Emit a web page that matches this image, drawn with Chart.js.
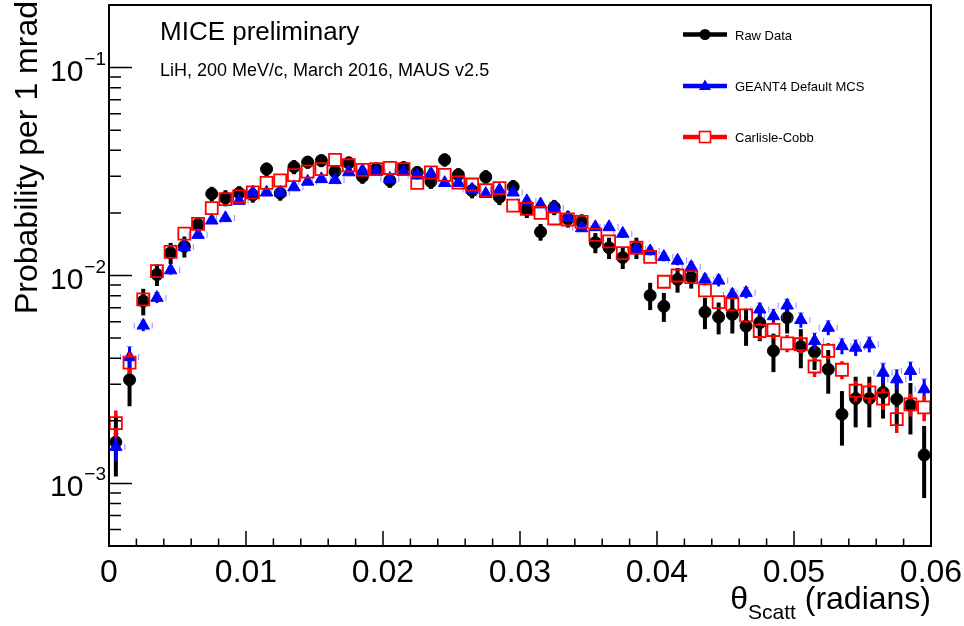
<!DOCTYPE html>
<html>
<head>
<meta charset="utf-8">
<script src="https://cdn.jsdelivr.net/npm/chart.js@4.4.1/dist/chart.umd.min.js"></script>
<style>
  html, body { margin: 0; padding: 0; background: #fff; }
  #wrap { width: 964px; height: 626px; }
</style>
</head>
<body>
<div id="wrap"><canvas id="c" width="964" height="626"></canvas></div>
<script>
// bin centres (radians), 1 mrad bins
const binCentres = [
  0.0005, 0.0015, 0.0025, 0.0035, 0.0045, 0.0055, 0.0065, 0.0075, 0.0085, 0.0095,
  0.0105, 0.0115, 0.0125, 0.0135, 0.0145, 0.0155, 0.0165, 0.0175, 0.0185, 0.0195,
  0.0205, 0.0215, 0.0225, 0.0235, 0.0245, 0.0255, 0.0265, 0.0275, 0.0285, 0.0295,
  0.0305, 0.0315, 0.0325, 0.0335, 0.0345, 0.0355, 0.0365, 0.0375, 0.0385, 0.0395,
  0.0405, 0.0415, 0.0425, 0.0435, 0.0445, 0.0455, 0.0465, 0.0475, 0.0485, 0.0495,
  0.0505, 0.0515, 0.0525, 0.0535, 0.0545, 0.0555, 0.0565, 0.0575, 0.0585, 0.0595
];

const rawData = [
  0.00158, 0.00315, 0.00753, 0.0101, 0.01285, 0.0138, 0.0176, 0.0247, 0.0236, 0.0249,
  0.0244, 0.0325, 0.0249, 0.0333, 0.0351, 0.0357, 0.0316, 0.0348, 0.0299, 0.0325,
  0.0286, 0.0330, 0.0313, 0.0283, 0.0360, 0.0305, 0.0256, 0.0298, 0.0238, 0.0267,
  0.0207, 0.0162, 0.0213, 0.0187, 0.0181, 0.0144, 0.0136, 0.0122, 0.0136, 0.00802,
  0.00711, 0.00957, 0.00982, 0.00667, 0.00631, 0.00650, 0.00571, 0.00593, 0.00434, 0.00627,
  0.00455, 0.00429, 0.00354, 0.00215, 0.00256, 0.00256, 0.00274, 0.00254, 0.00238, 0.00137
];
const rawErr = [
  0.0005, 0.0008, 0.0011, 0.0012, 0.0015, 0.0016, 0.0014, 0.0020, 0.0021, 0.0020,
  0.0020, 0.0024, 0.0020, 0.0026, 0.0025, 0.0025, 0.0024, 0.0025, 0.0023, 0.0024,
  0.0022, 0.0024, 0.0023, 0.0022, 0.0026, 0.0023, 0.0021, 0.0023, 0.0020, 0.0021,
  0.0018, 0.0015, 0.0018, 0.0017, 0.0016, 0.0016, 0.0016, 0.00145, 0.0016, 0.0012,
  0.00113, 0.0013, 0.00117, 0.00115, 0.0011, 0.00124, 0.00112, 0.0011, 0.00091, 0.00101,
  0.00097, 0.00078, 0.00084, 0.00063, 0.0007, 0.0007, 0.00069, 0.00063, 0.00066, 0.00052
];

const geantMcs = [
  0.00150, 0.00405, 0.00575, 0.00782, 0.0106, 0.0137, 0.0157, 0.0184, 0.0189, 0.0229,
  0.0251, 0.0251, 0.0251, 0.0266, 0.0283, 0.0291, 0.0288, 0.0314, 0.0320, 0.0316,
  0.0292, 0.0316, 0.0303, 0.0310, 0.0279, 0.0279, 0.0259, 0.0247, 0.0258, 0.0251,
  0.0228, 0.0220, 0.0212, 0.0190, 0.0169, 0.0171, 0.0171, 0.0159, 0.0134, 0.0131,
  0.0123, 0.0118, 0.0110, 0.00957, 0.00946, 0.00811, 0.00826, 0.00687, 0.00638, 0.00718,
  0.00611, 0.00484, 0.00561, 0.00458, 0.00450, 0.00467, 0.00341, 0.00317, 0.00348, 0.00284
];
const geantErr = [
  0.00023, 0.0005, 0.00035, 0.00045, 0.0005, 0.0006, 0.0006, 0.0007, 0.0007, 0.0008,
  0.0008, 0.0008, 0.0008, 0.0009, 0.0009, 0.0009, 0.0009, 0.0009, 0.0009, 0.0009,
  0.0009, 0.0009, 0.0009, 0.0009, 0.0009, 0.0009, 0.0008, 0.0008, 0.0008, 0.0008,
  0.0008, 0.0008, 0.0008, 0.0007, 0.0007, 0.0007, 0.0007, 0.0007, 0.0006, 0.0006,
  0.0006, 0.0006, 0.0006, 0.0006, 0.0006, 0.0005, 0.0005, 0.0005, 0.0005, 0.0005,
  0.0005, 0.00045, 0.00045, 0.0004, 0.0004, 0.0004, 0.00038, 0.00036, 0.00036, 0.00034
];

const carlisleCobb = [
  0.00195, 0.00381, 0.00767, 0.0105, 0.0130, 0.0159, 0.0177, 0.0211, 0.0233, 0.0240,
  0.0251, 0.0279, 0.0287, 0.0304, 0.0316, 0.0325, 0.0360, 0.0339, 0.0322, 0.0325,
  0.0329, 0.0325, 0.0279, 0.0313, 0.0305, 0.0280, 0.0274, 0.0257, 0.0263, 0.0217,
  0.0209, 0.0200, 0.0188, 0.0186, 0.0181, 0.0157, 0.0146, 0.0128, 0.0136, 0.0123,
  0.00933, 0.0100, 0.00982, 0.00848, 0.00745, 0.00726, 0.00643, 0.00541, 0.00547, 0.00472,
  0.00467, 0.00365, 0.00434, 0.00352, 0.00279, 0.00274, 0.00256, 0.00204, 0.00240, 0.00232
];
const carlisleErr = [
  0.00029, 0.00045, 0.0005, 0.0006, 0.0006, 0.0007, 0.0007, 0.0008, 0.0008, 0.0008,
  0.0008, 0.0009, 0.0009, 0.0009, 0.0009, 0.0009, 0.0009, 0.0009, 0.0009, 0.0009,
  0.0009, 0.0009, 0.0009, 0.0009, 0.0009, 0.0009, 0.0008, 0.0008, 0.0008, 0.0008,
  0.0008, 0.0008, 0.0007, 0.0007, 0.0007, 0.0007, 0.0007, 0.0006, 0.0006, 0.0006,
  0.0006, 0.0006, 0.0006, 0.0006, 0.0005, 0.0005, 0.0005, 0.0005, 0.0005, 0.00045,
  0.00045, 0.0004, 0.0004, 0.00035, 0.00032, 0.00032, 0.0003, 0.00029, 0.0003, 0.00033
];

const xTicks = [0, 0.01, 0.02, 0.03, 0.04, 0.05, 0.06];
const xTickLabels = ['0', '0.01', '0.02', '0.03', '0.04', '0.05', '0.06'];
const yTicks = [1e-3, 1e-2, 1e-1];
const yTickExponents = ['\u22123', '\u22122', '\u22121'];

const FONT = "'Liberation Sans', Arial, Helvetica, sans-serif";

function toPoints(ys) {
    return binCentres.map((x, i) => ({ x: x, y: ys[i] }));
}

// error bars drawn just before each dataset's markers (ROOT draws bar then marker)
const errorBars = {
    id: 'errorBars',
    beforeDatasetDraw(chart, args) {
        const ds = chart.data.datasets[args.index];
        if (!ds.errors) return;
        const ctx = chart.ctx;
        const a = chart.chartArea;
        const ys = chart.scales.y;
        ctx.save();
        ctx.beginPath();
        ctx.rect(a.left, a.top, a.right - a.left, a.bottom - a.top);
        ctx.clip();
        args.meta.data.forEach((pt, i) => {
            const v = ds.data[i].y;
            const e = ds.errors[i];
            const top = ys.getPixelForValue(v + e);
            const bot = ys.getPixelForValue(Math.max(v - e, 1e-6));
            const gap = ds.barGap || 0;
            ctx.strokeStyle = ds.barColor;
            ctx.lineWidth = ds.barWidth;
            ctx.beginPath();
            if (gap > 0) {
                if (pt.y - gap > top) { ctx.moveTo(pt.x, top); ctx.lineTo(pt.x, pt.y - gap); }
                if (pt.y + gap < bot) { ctx.moveTo(pt.x, pt.y + gap); ctx.lineTo(pt.x, bot); }
            } else {
                ctx.moveTo(pt.x, top);
                ctx.lineTo(pt.x, bot);
            }
            ctx.stroke();
            if (ds.sideMarks) {
                // faint bin-edge marks seen around the MC triangles
                ctx.strokeStyle = 'rgba(80,80,255,0.55)';
                ctx.lineWidth = 1.2;
                ctx.beginPath();
                ctx.moveTo(pt.x - 9, pt.y - 3); ctx.lineTo(pt.x - 9, pt.y + 3);
                ctx.moveTo(pt.x + 9, pt.y - 3); ctx.lineTo(pt.x + 9, pt.y + 3);
                ctx.moveTo(pt.x - 3, top); ctx.lineTo(pt.x + 3, top);
                ctx.stroke();
            }
        });
        ctx.restore();
    }
};

function drawMarker(ctx, kind, x, y) {
    ctx.save();
    if (kind === 'circle') {
        ctx.fillStyle = '#000';
        ctx.beginPath(); ctx.arc(x, y, 5.5, 0, Math.PI * 2); ctx.fill();
    } else if (kind === 'triangle') {
        ctx.fillStyle = '#0000ff';
        ctx.beginPath();
        ctx.moveTo(x, y - 6.5); ctx.lineTo(x + 6, y + 4); ctx.lineTo(x - 6, y + 4);
        ctx.closePath(); ctx.fill();
    } else {
        ctx.fillStyle = '#fff';
        ctx.fillRect(x - 5.5, y - 5.5, 11, 11);
        ctx.strokeStyle = '#ff0000'; ctx.lineWidth = 1.6;
        ctx.strokeRect(x - 5.5, y - 5.5, 11, 11);
    }
    ctx.restore();
}

// ROOT style frame, inward ticks, labels, titles and legend
const rootFrame = {
    id: 'rootFrame',
    afterDraw(chart) {
        const ctx = chart.ctx;
        const a = chart.chartArea;
        const xs = chart.scales.x, ys = chart.scales.y;
        ctx.save();

        ctx.strokeStyle = '#000';
        ctx.lineWidth = 2;
        ctx.strokeRect(a.left, a.top, a.right - a.left, a.bottom - a.top);

        ctx.lineWidth = 1.5;
        ctx.beginPath();
        for (let k = 0; k <= 30; k++) {
            const px = xs.getPixelForValue(k * 0.002);
            const len = (k % 5 === 0) ? 15 : 7.5;
            ctx.moveTo(px, a.bottom); ctx.lineTo(px, a.bottom - len);
        }
        for (let e = -4; e <= -1; e++) {
            for (let m = 1; m <= 9; m++) {
                const v = m * Math.pow(10, e);
                if (v < ys.min * 0.999 || v > ys.max * 1.001) continue;
                const py = ys.getPixelForValue(v);
                const len = m === 1 ? 23 : 12;
                ctx.moveTo(a.left, py); ctx.lineTo(a.left + len, py);
            }
        }
        ctx.stroke();

        // x tick labels
        ctx.fillStyle = '#000';
        ctx.font = '32px ' + FONT;
        ctx.textAlign = 'center';
        ctx.textBaseline = 'alphabetic';
        xTicks.forEach((v, i) => {
            ctx.fillText(xTickLabels[i], xs.getPixelForValue(v), 582);
        });

        // y tick labels 10^n
        yTicks.forEach((v, i) => {
            const py = ys.getPixelForValue(v);
            ctx.font = '19px ' + FONT;
            ctx.textAlign = 'right';
            const supW = ctx.measureText(yTickExponents[i]).width;
            ctx.fillText(yTickExponents[i], 106, py - 3);
            ctx.font = '30px ' + FONT;
            ctx.fillText('10', 105 - supW, py + 13);
        });

        // x axis title
        ctx.textAlign = 'left';
        ctx.font = '32px ' + FONT;
        const rest = ' (radians)';
        const restW = ctx.measureText(rest).width;
        ctx.font = '21px ' + FONT;
        const subW = ctx.measureText('Scatt').width;
        ctx.font = '32px ' + FONT;
        const thW = ctx.measureText('\u03b8').width;
        const x0 = a.right - restW - subW - thW;
        ctx.fillText('\u03b8', x0, 609);
        ctx.font = '21px ' + FONT;
        ctx.fillText('Scatt', x0 + thW, 619);
        ctx.font = '32px ' + FONT;
        ctx.fillText(rest, x0 + thW + subW, 609);

        // y axis title
        ctx.save();
        ctx.translate(37, 1);
        ctx.rotate(-Math.PI / 2);
        ctx.textAlign = 'right';
        ctx.font = '32px ' + FONT;
        ctx.fillText('Probability per 1 mrad', 0, 0);
        ctx.restore();

        // annotations
        ctx.textAlign = 'left';
        ctx.font = '26px ' + FONT;
        ctx.fillText('MICE preliminary', 160, 40);
        ctx.font = '18px ' + FONT;
        ctx.fillText('LiH, 200 MeV/c, March 2016, MAUS v2.5', 160, 76);

        // legend
        const rows = [34.5, 86, 137];
        chart.data.datasets.forEach((ds, i) => {
            const yRow = rows[i];
            ctx.strokeStyle = ds.barColor;
            ctx.lineWidth = 4.5;
            ctx.beginPath(); ctx.moveTo(683, yRow); ctx.lineTo(727, yRow); ctx.stroke();
            drawMarker(ctx, ds.legendMarker, 705, yRow);
            ctx.fillStyle = '#000';
            ctx.font = '13px ' + FONT;
            ctx.textAlign = 'left';
            ctx.fillText(ds.label, 735, yRow + 5);
        });

        ctx.restore();
    }
};

new Chart(document.getElementById('c'), {
    type: 'scatter',
    data: {
        datasets: [{
            label: 'Raw Data',
            data: toPoints(rawData),
            errors: rawErr,
            barColor: '#000000',
            barWidth: 4,
            legendMarker: 'circle',
            pointStyle: 'circle',
            pointRadius: 6,
            backgroundColor: '#000000',
            borderColor: '#000000',
            borderWidth: 1,
            order: 3
        }, {
            label: 'GEANT4 Default MCS',
            data: toPoints(geantMcs),
            errors: geantErr,
            barColor: '#0000ff',
            barWidth: 3,
            sideMarks: true,
            legendMarker: 'triangle',
            pointStyle: 'triangle',
            pointRadius: 7.2,
            backgroundColor: '#0000ff',
            borderColor: '#0000ff',
            borderWidth: 1,
            order: 2
        }, {
            label: 'Carlisle-Cobb',
            data: toPoints(carlisleCobb),
            errors: carlisleErr,
            barColor: '#ff0000',
            barWidth: 3.5,
            barGap: 6,
            legendMarker: 'rect',
            pointStyle: 'rect',
            pointRadius: 8.5,
            backgroundColor: 'rgba(0,0,0,0)',
            borderColor: '#ff0000',
            borderWidth: 1.8,
            order: 1
        }]
    },
    options: {
        responsive: false,
        animation: false,
        devicePixelRatio: 1,
        layout: { autoPadding: false, padding: { left: 109, right: 33, top: 5, bottom: 80 } },
        scales: {
            x: { type: 'linear', min: 0, max: 0.06, display: false },
            y: { type: 'logarithmic', min: 5e-4, max: 0.2, display: false }
        },
        plugins: {
            legend: { display: false },
            tooltip: { enabled: false }
        }
    },
    plugins: [errorBars, rootFrame]
});
</script>
</body>
</html>
